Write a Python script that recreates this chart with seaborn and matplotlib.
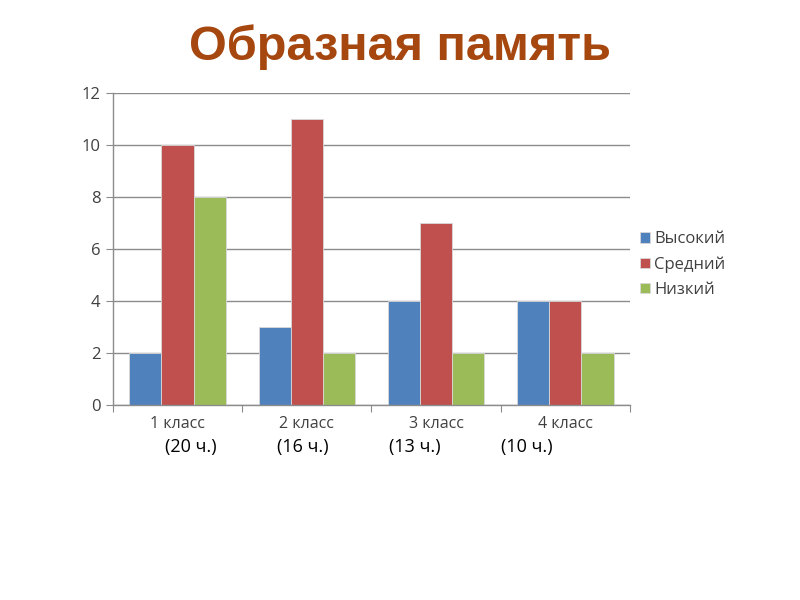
import numpy as np
import pandas as pd
import matplotlib
matplotlib.use('Agg')
import matplotlib.pyplot as plt
import seaborn as sns

# данные с диаграммы
classes = ['1 класс', '2 класс', '3 класс', '4 класс']
counts = ['(20 ч.)', '(16 ч.)', '(13 ч.)', '(10 ч.)']
levels = ['Высокий', 'Средний', 'Низкий']
high = [2, 3, 4, 4]
mid = [10, 11, 7, 4]
low = [8, 2, 2, 2]

df = pd.DataFrame({
    'класс': classes * 3,
    'уровень': [levels[0]] * 4 + [levels[1]] * 4 + [levels[2]] * 4,
    'значение': high + mid + low,
})

sns.set_style('white')
plt.rcParams['font.family'] = ['Open Sans', 'DejaVu Sans']

fig = plt.figure(figsize=(8, 6), dpi=100)
ax = fig.add_axes([0.141, 0.325, 0.6465, 0.52])

palette = ['#4F81BD', '#C0504D', '#9BBB59']
sns.barplot(data=df, x='класс', y='значение', hue='уровень', palette=palette,
            width=0.745, ax=ax, saturation=1, edgecolor='#d9d9d9', linewidth=0.6)

ax.set_ylim(0, 12)
ax.set_yticks(range(0, 13, 2))
ax.set_xlim(-0.5, 3.5)
ax.yaxis.grid(True, color='#8c8c8c', linewidth=1)
ax.set_axisbelow(True)
ax.set_xlabel('')
ax.set_ylabel('')
for s in ['top', 'right']:
    ax.spines[s].set_visible(False)
for s in ['left', 'bottom']:
    ax.spines[s].set_color('#8c8c8c')
    ax.spines[s].set_linewidth(1)

# деления оси X по границам категорий
ax.set_xticks(np.arange(-0.5, 4, 1), minor=False)
ax.set_xticklabels([])
ax.set_xticks(range(4), minor=True)
ax.set_xticklabels(classes, minor=True)
ax.tick_params(axis='x', which='major', length=5, color='#8c8c8c', direction='out', bottom=True)
ax.tick_params(axis='x', which='minor', length=0, pad=8, labelsize=11.5, labelcolor='#404040')
ax.tick_params(axis='y', length=5, color='#8c8c8c', direction='out', left=True,
               labelsize=12, labelcolor='#404040', pad=4)

leg = ax.legend(loc='center left', bbox_to_anchor=(1.0, 0.45), frameon=False,
                borderaxespad=0.2, handlelength=0.6, handleheight=0.6, handletextpad=0.25,
                labelspacing=0.55, fontsize=12)
for t in leg.get_texts():
    t.set_color('#404040')

# подписи количества учеников
xs = [0.238, 0.378, 0.518, 0.659]
for x, c in zip(xs, counts):
    fig.text(x, 0.255, c, ha='center', va='center', fontsize=13, color='#000000')

fig.text(0.5, 0.922, 'Образная память', ha='center', va='center',
         fontsize=35, fontweight='bold', color='#A5470F',
         family=['Liberation Sans', 'DejaVu Sans'])

plt.savefig('out.png', dpi=100)
